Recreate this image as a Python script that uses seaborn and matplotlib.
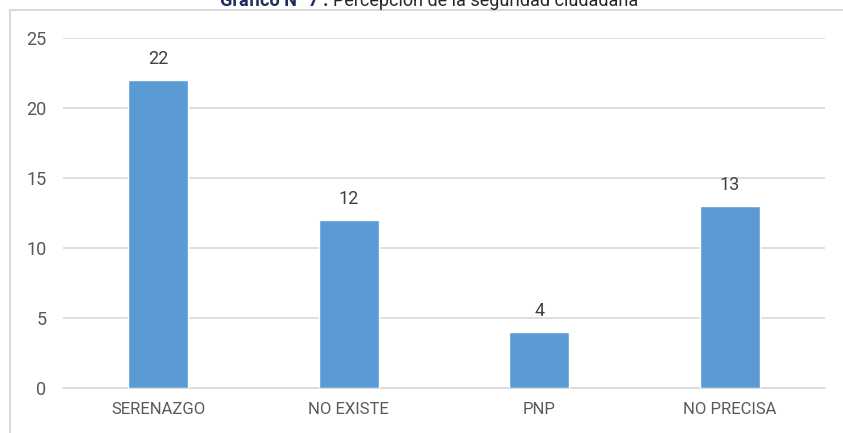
import matplotlib
matplotlib.use("Agg")
import matplotlib.pyplot as plt
import seaborn as sns
import pandas as pd
from matplotlib.patches import Rectangle

categories = ["SERENAZGO", "NO EXISTE", "PNP", "NO PRECISA"]
values = [22, 12, 4, 13]
yticks = [0, 5, 10, 15, 20, 25]

sns.set_theme(style="white")
plt.rcParams["font.family"] = ["Roboto", "DejaVu Sans"]

df = pd.DataFrame({"cat": categories, "val": values})

fig = plt.figure(figsize=(8.43, 4.33), dpi=100)
ax = fig.add_axes([63/843, 45/433, (825-63)/843, 350/433])
sns.barplot(data=df, x="cat", y="val", color="#5B9BD5", width=0.315,
            saturation=1, ax=ax, zorder=3)

ax.set_ylim(0, 25)
ax.set_yticks(yticks)
ax.set_xlim(-0.5, len(categories) - 0.5)
ax.yaxis.grid(True, color="#d9d9d9", linewidth=1.2, zorder=0)
ax.set_axisbelow(True)
for s in ["top", "right", "left"]:
    ax.spines[s].set_visible(False)
ax.spines["bottom"].set_color("#d9d9d9")
ax.spines["bottom"].set_linewidth(1.2)
ax.set_xlabel("")
ax.set_ylabel("")
ax.tick_params(axis="y", length=0, pad=12, labelsize=13, labelcolor="#595959")
ax.tick_params(axis="x", length=0, pad=10, labelsize=12, labelcolor="#595959")

for c in ax.containers:
    ax.bar_label(c, labels=[str(v) for v in values], padding=9,
                 fontsize=13, color="#404040")

# chart border
fig.add_artist(Rectangle((10/843, -0.05), 1.0, (433-10)/433 + 0.05,
                         transform=fig.transFigure, fill=False,
                         edgecolor="#d9d9d9", linewidth=1.5))

t1 = "Gráfico N° 7 : "
t2 = "Percepción de la seguridad ciudadana"
x0 = 220/843
ybase = 1 - 6/433
a = fig.text(x0, ybase, t1, ha="left", va="baseline", fontsize=13,
             fontweight="bold", color="#1F2D5C")
fig.canvas.draw()
bb = a.get_window_extent()
fig.text(bb.x1/843, ybase, t2, ha="left", va="baseline", fontsize=13,
         color="#262626")

fig.savefig("out.png", dpi=100)
